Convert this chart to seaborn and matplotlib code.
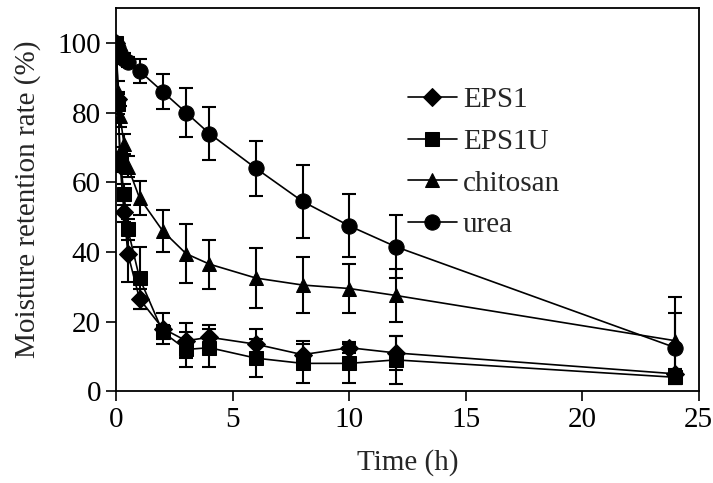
import numpy as np
import pandas as pd
import matplotlib
matplotlib.use("Agg")
import matplotlib.pyplot as plt
import seaborn as sns

time_h = [0, 0.083, 0.167, 0.333, 0.5, 1, 2, 3, 4, 6, 8, 10, 12, 24]

eps1 = [100, 84, 65, 51.5, 39.5, 26.5, 18, 14.5, 15.5, 13.5, 10.5, 12.5, 11, 5]
eps1_err = [0, 2, 2, 3, 8, 3, 4.5, 5, 3.5, 4.5, 4, 1.5, 5, 1.5]

eps1u = [100, 82.5, 67, 56.5, 46.5, 32.5, 17, 12, 12.5, 9.5, 8, 8, 9, 4]
eps1u_err = [0, 3, 3, 3, 3, 9, 2, 5, 5.5, 5.5, 5.5, 5.5, 7, 2]

chitosan = [100, 86, 79, 71, 64.5, 55.5, 46, 39.5, 36.5, 32.5, 30.5, 29.5, 27.5, 14.5]
chitosan_err = [0, 3, 3, 3, 3, 5, 6, 8.5, 7, 8.5, 8, 7, 7.5, 12.5]

urea = [100, 98.5, 97, 95.5, 94.5, 92, 86, 80, 74, 64, 54.5, 47.5, 41.5, 12.5]
urea_err = [0, 1, 1, 1.5, 1.5, 3.5, 5, 7, 7.5, 8, 10.5, 9, 9, 10]

series = ["EPS1", "EPS1U", "chitosan", "urea"]
values = [eps1, eps1u, chitosan, urea]
errors = [eps1_err, eps1u_err, chitosan_err, urea_err]
markers = {"EPS1": "D", "EPS1U": "s", "chitosan": "^", "urea": "o"}
msizes = {"EPS1": 9, "EPS1U": 9.5, "chitosan": 10, "urea": 11}

df = pd.concat([
    pd.DataFrame({"Time": time_h, "value": v, "err": e, "series": s})
    for s, v, e in zip(series, values, errors)
], ignore_index=True)

sns.set_style("ticks")
plt.rcParams["font.family"] = ["Liberation Serif", "DejaVu Serif"]

FS = 21

fig = plt.figure(figsize=(7.13, 4.83), dpi=100)
ax = fig.add_axes([0.163, 0.19, 0.817, 0.793])

for s in series:
    sub = df[df["series"] == s]
    ax.errorbar(sub["Time"], sub["value"], yerr=sub["err"], fmt="none",
                ecolor="black", elinewidth=1.5, capsize=5, capthick=1.5, zorder=2)

for s in series:
    sub = df[df["series"] == s]
    sns.lineplot(data=sub, x="Time", y="value", ax=ax, color="black",
                 marker=markers[s], markersize=msizes[s], markeredgecolor="black",
                 markerfacecolor="black", linewidth=1.2, label=s, zorder=3,
                 errorbar=None, sort=False)

ax.set_xlim(0, 25)
ax.set_ylim(0, 110)
ax.set_xticks([0, 5, 10, 15, 20, 25])
ax.set_yticks([0, 20, 40, 60, 80, 100])
ax.set_xlabel("Time (h)", fontsize=FS, labelpad=12)
ax.set_ylabel("Moisture retention rate (%)", fontsize=FS, labelpad=12)
ax.tick_params(axis="both", labelsize=FS, direction="out", length=7, width=1.2,
               colors="black", pad=4)
for sp in ax.spines.values():
    sp.set_visible(True)
    sp.set_linewidth(1.3)
    sp.set_color("black")

leg = ax.legend(loc="upper left", bbox_to_anchor=(0.455, 0.863), frameon=False,
                fontsize=FS, handlelength=1.7, labelspacing=0.52, handletextpad=0.2,
                borderpad=0.4)

fig.savefig("out.png", dpi=100)
